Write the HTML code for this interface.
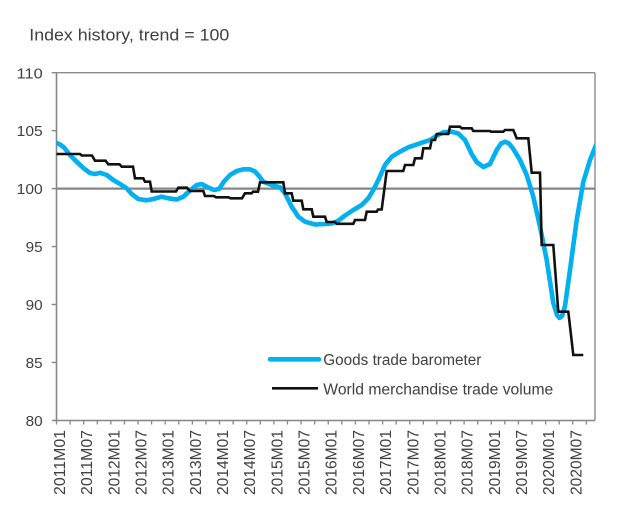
<!DOCTYPE html>
<html><head><meta charset="utf-8"><style>
html,body{margin:0;padding:0;background:#fff;}
svg{display:block;}
text{font-family:"Liberation Sans",Arial,sans-serif;fill:#404040;}
</style></head><body>
<svg width="622" height="524" viewBox="0 0 622 524" xmlns="http://www.w3.org/2000/svg">
<rect width="622" height="524" fill="#fff"/>
<text x="29.3" y="40.7" font-size="17" textLength="200" lengthAdjust="spacingAndGlyphs">Index history, trend = 100</text>

<!-- plot border -->
<line x1="56.5" y1="72.7" x2="595" y2="72.7" stroke="#8c8c8c" stroke-width="1.4"/>
<line x1="595" y1="72.7" x2="595" y2="420.5" stroke="#8c8c8c" stroke-width="1.4"/>
<line x1="56.5" y1="72.7" x2="56.5" y2="420.5" stroke="#868686" stroke-width="1.6"/>
<line x1="52" y1="420.5" x2="595" y2="420.5" stroke="#868686" stroke-width="1.6"/>

<!-- y ticks -->
<g stroke="#868686" stroke-width="1.4">
<line x1="51.7" y1="72.7" x2="56.5" y2="72.7"/>
<line x1="51.7" y1="130.65" x2="56.5" y2="130.65"/>
<line x1="51.7" y1="188.6" x2="56.5" y2="188.6"/>
<line x1="51.7" y1="246.55" x2="56.5" y2="246.55"/>
<line x1="51.7" y1="304.5" x2="56.5" y2="304.5"/>
<line x1="51.7" y1="362.45" x2="56.5" y2="362.45"/>
</g>
<g font-size="14.5" text-anchor="end">
<text x="42.7" y="78.3" textLength="26" lengthAdjust="spacingAndGlyphs">110</text>
<text x="42.7" y="136.2" textLength="26" lengthAdjust="spacingAndGlyphs">105</text>
<text x="42.7" y="194.1" textLength="26" lengthAdjust="spacingAndGlyphs">100</text>
<text x="42.7" y="252.0" textLength="17" lengthAdjust="spacingAndGlyphs">95</text>
<text x="42.7" y="310.0" textLength="17" lengthAdjust="spacingAndGlyphs">90</text>
<text x="42.7" y="367.9" textLength="17" lengthAdjust="spacingAndGlyphs">85</text>
<text x="42.7" y="425.9" textLength="17" lengthAdjust="spacingAndGlyphs">80</text>
</g>

<!-- x ticks every 3 months -->
<g stroke="#868686" stroke-width="1.3">
<line x1="56.5" y1="420.5" x2="56.5" y2="424.5"/><line x1="70.09" y1="420.5" x2="70.09" y2="424.5"/><line x1="83.67" y1="420.5" x2="83.67" y2="424.5"/><line x1="97.26" y1="420.5" x2="97.26" y2="424.5"/><line x1="110.85" y1="420.5" x2="110.85" y2="424.5"/><line x1="124.44" y1="420.5" x2="124.44" y2="424.5"/><line x1="138.02" y1="420.5" x2="138.02" y2="424.5"/><line x1="151.61" y1="420.5" x2="151.61" y2="424.5"/><line x1="165.2" y1="420.5" x2="165.2" y2="424.5"/><line x1="178.78" y1="420.5" x2="178.78" y2="424.5"/><line x1="192.37" y1="420.5" x2="192.37" y2="424.5"/><line x1="205.96" y1="420.5" x2="205.96" y2="424.5"/><line x1="219.54" y1="420.5" x2="219.54" y2="424.5"/><line x1="233.13" y1="420.5" x2="233.13" y2="424.5"/><line x1="246.72" y1="420.5" x2="246.72" y2="424.5"/><line x1="260.3" y1="420.5" x2="260.3" y2="424.5"/><line x1="273.89" y1="420.5" x2="273.89" y2="424.5"/><line x1="287.48" y1="420.5" x2="287.48" y2="424.5"/><line x1="301.07" y1="420.5" x2="301.07" y2="424.5"/><line x1="314.65" y1="420.5" x2="314.65" y2="424.5"/><line x1="328.24" y1="420.5" x2="328.24" y2="424.5"/><line x1="341.83" y1="420.5" x2="341.83" y2="424.5"/><line x1="355.41" y1="420.5" x2="355.41" y2="424.5"/><line x1="369" y1="420.5" x2="369" y2="424.5"/><line x1="382.59" y1="420.5" x2="382.59" y2="424.5"/><line x1="396.17" y1="420.5" x2="396.17" y2="424.5"/><line x1="409.76" y1="420.5" x2="409.76" y2="424.5"/><line x1="423.35" y1="420.5" x2="423.35" y2="424.5"/><line x1="436.93" y1="420.5" x2="436.93" y2="424.5"/><line x1="450.52" y1="420.5" x2="450.52" y2="424.5"/><line x1="464.11" y1="420.5" x2="464.11" y2="424.5"/><line x1="477.7" y1="420.5" x2="477.7" y2="424.5"/><line x1="491.28" y1="420.5" x2="491.28" y2="424.5"/><line x1="504.87" y1="420.5" x2="504.87" y2="424.5"/><line x1="518.46" y1="420.5" x2="518.46" y2="424.5"/><line x1="532.04" y1="420.5" x2="532.04" y2="424.5"/><line x1="545.63" y1="420.5" x2="545.63" y2="424.5"/><line x1="559.22" y1="420.5" x2="559.22" y2="424.5"/><line x1="572.8" y1="420.5" x2="572.8" y2="424.5"/><line x1="586.39" y1="420.5" x2="586.39" y2="424.5"/>
</g>

<!-- x labels -->
<g font-size="16" text-anchor="end">
<text transform="translate(65,430) rotate(-90)" textLength="65" lengthAdjust="spacingAndGlyphs">2011M01</text>
<text transform="translate(92.17,430) rotate(-90)" textLength="65" lengthAdjust="spacingAndGlyphs">2011M07</text>
<text transform="translate(119.35,430) rotate(-90)" textLength="65" lengthAdjust="spacingAndGlyphs">2012M01</text>
<text transform="translate(146.52,430) rotate(-90)" textLength="65" lengthAdjust="spacingAndGlyphs">2012M07</text>
<text transform="translate(173.7,430) rotate(-90)" textLength="65" lengthAdjust="spacingAndGlyphs">2013M01</text>
<text transform="translate(200.87,430) rotate(-90)" textLength="65" lengthAdjust="spacingAndGlyphs">2013M07</text>
<text transform="translate(228.04,430) rotate(-90)" textLength="65" lengthAdjust="spacingAndGlyphs">2014M01</text>
<text transform="translate(255.22,430) rotate(-90)" textLength="65" lengthAdjust="spacingAndGlyphs">2014M07</text>
<text transform="translate(282.39,430) rotate(-90)" textLength="65" lengthAdjust="spacingAndGlyphs">2015M01</text>
<text transform="translate(309.57,430) rotate(-90)" textLength="65" lengthAdjust="spacingAndGlyphs">2015M07</text>
<text transform="translate(336.74,430) rotate(-90)" textLength="65" lengthAdjust="spacingAndGlyphs">2016M01</text>
<text transform="translate(363.91,430) rotate(-90)" textLength="65" lengthAdjust="spacingAndGlyphs">2016M07</text>
<text transform="translate(391.09,430) rotate(-90)" textLength="65" lengthAdjust="spacingAndGlyphs">2017M01</text>
<text transform="translate(418.26,430) rotate(-90)" textLength="65" lengthAdjust="spacingAndGlyphs">2017M07</text>
<text transform="translate(445.43,430) rotate(-90)" textLength="65" lengthAdjust="spacingAndGlyphs">2018M01</text>
<text transform="translate(472.61,430) rotate(-90)" textLength="65" lengthAdjust="spacingAndGlyphs">2018M07</text>
<text transform="translate(499.78,430) rotate(-90)" textLength="65" lengthAdjust="spacingAndGlyphs">2019M01</text>
<text transform="translate(526.96,430) rotate(-90)" textLength="65" lengthAdjust="spacingAndGlyphs">2019M07</text>
<text transform="translate(554.13,430) rotate(-90)" textLength="65" lengthAdjust="spacingAndGlyphs">2020M01</text>
<text transform="translate(581.3,430) rotate(-90)" textLength="65" lengthAdjust="spacingAndGlyphs">2020M07</text>
</g>

<defs><clipPath id="pc"><rect x="56.5" y="60" width="538.5" height="360"/></clipPath></defs>

<!-- trend line -->
<line x1="56.5" y1="188.6" x2="595" y2="188.6" stroke="#868686" stroke-width="2.2"/>

<g clip-path="url(#pc)">
<polyline fill="none" stroke="#00B0F0" stroke-width="4.6" stroke-linejoin="round" stroke-linecap="round" points="56.5,143 60,144.5 64,147.5 70,155 76.7,161.7 83.3,168 90,173 95,174 100,172.8 106.7,175 113.3,180 120,184 126.7,188.3 131.7,194 138.3,199 146.7,200.3 153.3,199 161.7,196.7 168.3,198.3 176.7,199.5 183.3,196.7 190,190.5 196.7,185 201.7,184 208.3,187.5 214,190 219,189 224,181.5 230,175 236.7,171 243.3,169.3 250,169.3 255,171.5 259,176 263.3,181.7 271.7,185 280,187.3 285,193.3 291.7,206.7 298.3,216.7 305,221.7 315,224.5 325,224 331.7,223.5 338.3,220.7 345,215.5 353.3,210 361.7,205 368.3,198.3 373.3,190 378.3,180 385,165 391.7,156.7 400,151.7 408.3,147.3 420,143.3 430,140 436.7,135.7 443.3,132.3 451.7,131.7 458.3,133.5 465,140 471.7,154 476.7,162 483.3,167 490,164 496.7,150 501,143.5 505,141.7 509,143.5 513,148.5 520,160 526.7,175 533.3,196.7 540,226.7 546.7,260 553.3,303 557,315 559.5,318 562,316 565,306 570,270 576.7,220 583.3,182 590,160 596,145"/>
<polyline fill="none" stroke="#111" stroke-width="2.6" stroke-linejoin="miter" points="56.5,154 80,154 81.7,155.5 92,155.5 95,160.7 105.5,160.7 108.3,164.3 119.5,164.3 121.7,166.7 133,166.7 135,178.3 143.3,178.3 145,181.7 150,181.7 151.7,191.5 176,191.5 178.3,187.7 187,187.7 190,191 203.3,191 205,196 214,196 216,197.3 228.5,197.3 230.5,198.3 242,198.3 245,193.3 251.7,193.3 253,191.7 258,191.7 260,182.3 283.3,182.3 285,193.3 291.7,193.3 293.3,200.7 301.7,200.7 303.3,209.3 311.7,209.3 313.3,216.7 325,216.7 326.7,222 335,222 336.7,223.8 353.3,223.8 355,220 365,220 366.7,211.7 376.7,211.7 378,209.5 381.7,209.5 386.7,171 403.3,171 405,165 413.3,165 415,158.3 421.7,158.3 423.3,148.3 430,148.3 431.7,140 435,140 436.7,134 448.3,134 450,126.7 460,126.7 461.7,128.3 471.7,128.3 473.3,131 490,131 491,131.7 503.3,131.7 505,130 513.3,130 516.7,138.3 528.3,138.3 531.7,172.7 540,172.7 541.7,245 553.3,245 558.3,311.7 568.3,311.7 573.3,355 583.3,355"/>
</g>

<!-- legend -->
<line x1="270" y1="359.3" x2="319" y2="359.3" stroke="#00B0F0" stroke-width="4.6" stroke-linecap="round"/>
<text x="323.3" y="365" font-size="15.5" textLength="158" lengthAdjust="spacingAndGlyphs">Goods trade barometer</text>
<line x1="272" y1="388.3" x2="318" y2="388.3" stroke="#111" stroke-width="2.6"/>
<text x="323.3" y="394.3" font-size="15.5" textLength="230" lengthAdjust="spacingAndGlyphs">World merchandise trade volume</text>
</svg>
</body></html>
